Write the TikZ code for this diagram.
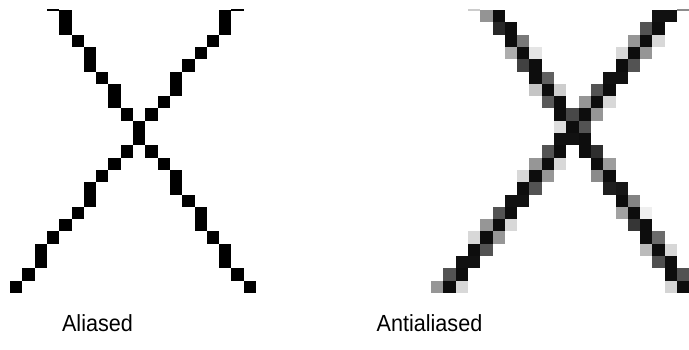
\documentclass[tikz,border=0pt]{standalone}
\usepackage{fontspec}
\usepackage{graphicx}
\setmainfont{Liberation Sans}

\begin{document}
\begin{tikzpicture}[
  x=1pt, y=-1pt,
  px/.style={fill=black},
  tick/.style={fill=black, line width=0pt},
  lbl/.style={anchor=base, inner sep=0pt, font=\fontsize{21.6}{26}\selectfont},
]
\useasboundingbox (0,0) rectangle (689,349);

% pixel pitch and the two grid origins (top left corner of column 0, row 0)
\def\pix{12.3}
\def\leftX{10}
\def\rightX{431}
\def\topY{10}

% --- aliased cross: column/first row/number of rows
\begin{scope}[shift={(\leftX,\topY)}, x=\pix pt, y=-\pix pt]
  \foreach \cx/\ry/\n in {4/0/2, 5/2/1, 6/3/2, 7/5/1, 8/6/2, 9/8/1, 10/9/2, 11/11/1,
                         12/12/1, 13/13/2, 14/15/1, 15/16/2, 16/18/1, 17/19/2, 18/21/1, 19/22/1}
    \fill[px] (\cx,\ry) rectangle ++(1,\n);
  \foreach \cx/\ry/\n in {17/0/2, 16/2/1, 15/3/1, 14/4/1, 13/5/2, 12/7/1, 11/8/1, 10/9/2,
                         9/11/1, 8/12/1, 7/13/1, 6/14/2, 5/16/1, 4/17/1, 3/18/1, 2/19/2, 1/21/1, 0/22/1}
    \fill[px] (\cx,\ry) rectangle ++(1,\n);
  % thin ends at the top
  \fill[tick] (3,-0.05) rectangle ++(1,0.16);
  \fill[tick] (18,-0.05) rectangle ++(1,0.16);
\end{scope}

% --- antialiased cross: grey level from the distance of each pixel centre to both lines
\begin{scope}[shift={(\rightX,\topY)}, x=\pix pt, y=-\pix pt]
  \foreach \ry in {0,...,22}{
    \foreach \cx in {0,...,20}{
      \pgfmathsetmacro\dA{abs(\cx+0.5-(5.35+0.69*\ry))/1.215}
      \pgfmathsetmacro\dB{abs(\cx+0.5-(19.0-0.8*\ry))/1.281}
      \pgfmathsetmacro\gry{max(0,min(95,(0.95-min(\dA,\dB))/0.6*100))}
      \ifdim\gry pt>4pt \fill[black!\gry] (\cx,\ry) rectangle ++(1,1); \fi
    }
  }
  \fill[black!20] (3,-0.05) rectangle ++(1,0.16);
  \fill[black!45] (20,-0.05) rectangle ++(1,0.16);
\end{scope}

\node[lbl] (aliased) at (97.5,331) {\scalebox{1}[1.08]{Aliased}};
\node[lbl] (antialiased) at (429.5,331) {\scalebox{1}[1.08]{Antialiased}};

\end{tikzpicture}
\end{document}
